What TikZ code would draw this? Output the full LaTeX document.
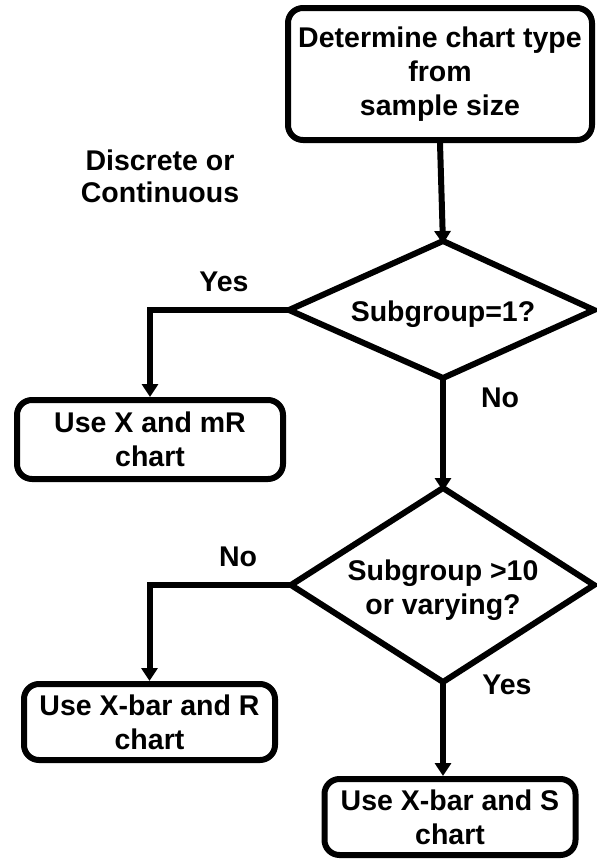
\documentclass[tikz,border=0pt]{standalone}
\usepackage{fontspec}
\setmainfont{Liberation Sans}
\usetikzlibrary{arrows.meta}
\tikzset{
  every node/.style={font=\bfseries\fontsize{28.5}{34}\selectfont, align=center, inner sep=0pt},
  boxnode/.style={draw, line width=6pt, rounded corners=15pt, rectangle},
  decision/.style={draw, line width=6pt, line join=miter},
  conn/.style={line width=6pt, -{Triangle[width=16pt,length=13pt]}},
  lbl/.style={}
}
\begin{document}
\begin{tikzpicture}[x=1pt,y=-1pt]
\useasboundingbox (0,0) rectangle (597,860);
\node[boxnode, minimum width=304pt, minimum height=132pt] (top) at (440,74) {Determine chart type\\from\\sample size};
\node[lbl, font=\bfseries\fontsize{28.5}{32}\selectfont] (disc) at (160,176) {Discrete or\\Continuous};
% decision 1
\coordinate (d1n) at (443,241);
\coordinate (d1e) at (594,310);
\coordinate (d1s) at (443,378);
\coordinate (d1w) at (289,310);
\draw[decision] (d1n) -- (d1e) -- (d1s) -- (d1w) -- cycle;
\node (d1) at (443,314) {Subgroup=1?};
\node[boxnode, minimum width=266pt, minimum height=79pt] (b1) at (150,439.5) {Use X and mR\\chart};
% decision 2
\coordinate (d2n) at (443,488);
\coordinate (d2e) at (594,585);
\coordinate (d2s) at (443,682);
\coordinate (d2w) at (291,585);
\draw[decision] (d2n) -- (d2e) -- (d2s) -- (d2w) -- cycle;
\node (d2) at (443,590) {Subgroup >10\\or varying?};
\node[boxnode, minimum width=251pt, minimum height=76pt] (b2) at (149.5,722) {Use X-bar and R\\chart};
\node[boxnode, minimum width=251pt, minimum height=76pt] (b3) at (450,817) {Use X-bar and S\\chart};
\node[lbl] (yes1) at (224,282) {Yes};
\node[lbl] (no1) at (500,398) {No};
\node[lbl] (no2) at (238,557) {No};
\node[lbl] (yes2) at (507,685) {Yes};
\draw[conn] (top.south) -- ([yshift=-3pt]d1n);
\draw[conn] (d1w) -| (b1.north);
\draw[conn] (d1s) -- ([yshift=-3pt]d2n);
\draw[conn] (d2w) -| (b2.north);
\draw[conn] (d2s) -- (d2s |- b3.north);
\end{tikzpicture}
\end{document}
